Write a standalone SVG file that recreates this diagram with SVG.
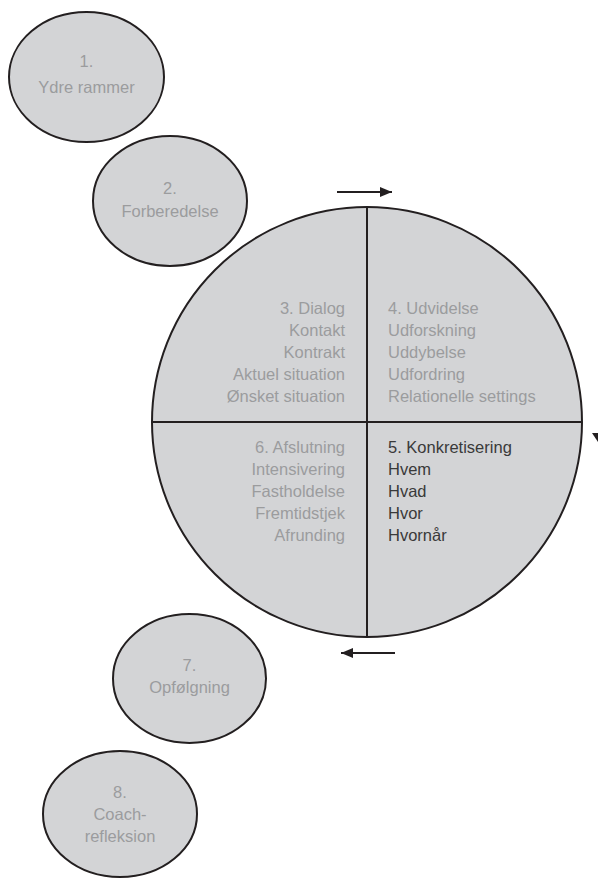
<svg xmlns="http://www.w3.org/2000/svg" width="598" height="880" viewBox="0 0 598 880">
<style>
.shape{fill:#d3d4d6;stroke:#231f20;stroke-width:2}
.line{stroke:#231f20;stroke-width:2;fill:none}
.t{font-family:"Liberation Sans",Arial,sans-serif;font-size:16.5px;fill:#9b9c9e}
.c{text-anchor:middle}
.r{text-anchor:end}
.dark{fill:#3a3a3a}
</style>
<defs>
<marker id="ah" viewBox="0 0 12 10" refX="12" refY="5" markerWidth="12" markerHeight="10" markerUnits="userSpaceOnUse" orient="auto">
<path d="M0,0 L12,5 L0,10 Z" fill="#231f20"/>
</marker>
</defs>
<rect width="598" height="880" fill="#fff"/>
<g id="n1"><ellipse class="shape" cx="86.5" cy="77" rx="77.5" ry="65"/>
<text class="t c" x="86.5" y="67">1.</text><text class="t c" x="86.5" y="93">Ydre rammer</text></g>
<g id="n2"><ellipse class="shape" cx="170" cy="201" rx="77" ry="65"/>
<text class="t c" x="170" y="194">2.</text><text class="t c" x="170" y="217">Forberedelse</text></g>
<g id="main">
<circle class="shape" cx="367" cy="422" r="215"/>
<line class="line" x1="367" y1="207" x2="367" y2="637"/>
<line class="line" x1="152" y1="422" x2="582" y2="422"/>
</g>
<g id="n3"><text class="t r" x="345" y="314">3. Dialog</text><text class="t r" x="345" y="336">Kontakt</text><text class="t r" x="345" y="358">Kontrakt</text><text class="t r" x="345" y="380">Aktuel situation</text><text class="t r" x="345" y="402">Ønsket situation</text></g>
<g id="n4"><text class="t" x="388" y="314">4. Udvidelse</text><text class="t" x="388" y="336">Udforskning</text><text class="t" x="388" y="358">Uddybelse</text><text class="t" x="388" y="380">Udfordring</text><text class="t" x="388" y="402">Relationelle settings</text></g>
<g id="n6"><text class="t r" x="345" y="453">6. Afslutning</text><text class="t r" x="345" y="475">Intensivering</text><text class="t r" x="345" y="497">Fastholdelse</text><text class="t r" x="345" y="519">Fremtidstjek</text><text class="t r" x="345" y="541">Afrunding</text></g>
<g id="n5"><text class="t dark" x="388" y="453">5. Konkretisering</text><text class="t dark" x="388" y="475">Hvem</text><text class="t dark" x="388" y="497">Hvad</text><text class="t dark" x="388" y="519">Hvor</text><text class="t dark" x="388" y="541">Hvornår</text></g>
<g id="n7"><ellipse class="shape" cx="189.5" cy="678.5" rx="76.5" ry="64.5"/>
<text class="t c" x="189.5" y="671">7.</text><text class="t c" x="189.5" y="693">Opfølgning</text></g>
<g id="n8"><ellipse class="shape" cx="120" cy="814" rx="77" ry="63"/>
<text class="t c" x="120" y="798">8.</text><text class="t c" x="120" y="820">Coach-</text><text class="t c" x="120" y="842">refleksion</text></g>
<g id="connectors">
<line class="line" x1="337" y1="192" x2="392" y2="192" marker-end="url(#ah)"/>
<line class="line" x1="395" y1="653" x2="341" y2="653" marker-end="url(#ah)"/>
<path d="M592,433 L604,433 L598,442 Z" fill="#231f20"/>
</g>
</svg>
